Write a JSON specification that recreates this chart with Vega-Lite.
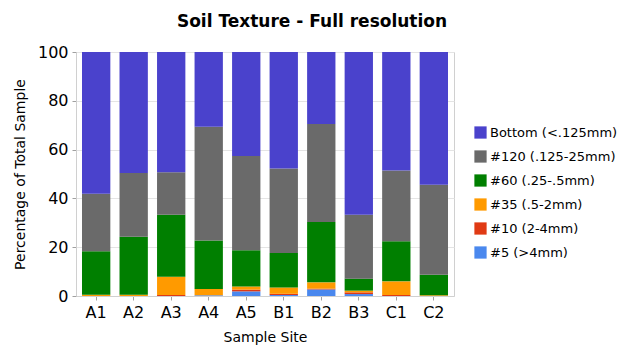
{
  "$schema": "https://vega.github.io/schema/vega-lite/v6.json",
  "width": 378,
  "height": 244,
  "autosize": {"type": "none"},
  "padding": {"left": 76, "top": 52, "right": 171, "bottom": 54},
  "config": {
    "font": "DejaVu Sans",
    "view": {"stroke": "#d0d0d0", "strokeWidth": 1}
  },
  "title": {
    "text": "Soil Texture - Full resolution",
    "fontSize": 17,
    "fontWeight": "bold",
    "font": "DejaVu Sans",
    "color": "#000000",
    "anchor": "middle",
    "dx": 47,
    "offset": 13
  },
  "data": {
    "values": [
      {"site": "A1", "size": "#5 (>4mm)", "k": 1, "pct": 0},
      {"site": "A1", "size": "#10 (2-4mm)", "k": 2, "pct": 0},
      {"site": "A1", "size": "#35 (.5-2mm)", "k": 3, "pct": 0.5},
      {"site": "A1", "size": "#60 (.25-.5mm)", "k": 4, "pct": 17.8},
      {"site": "A1", "size": "#120 (.125-25mm)", "k": 5, "pct": 23.6},
      {"site": "A1", "size": "Bottom (<.125mm)", "k": 6, "pct": 58.1},
      {"site": "A2", "size": "#5 (>4mm)", "k": 1, "pct": 0},
      {"site": "A2", "size": "#10 (2-4mm)", "k": 2, "pct": 0},
      {"site": "A2", "size": "#35 (.5-2mm)", "k": 3, "pct": 0.5},
      {"site": "A2", "size": "#60 (.25-.5mm)", "k": 4, "pct": 23.8},
      {"site": "A2", "size": "#120 (.125-25mm)", "k": 5, "pct": 26.1},
      {"site": "A2", "size": "Bottom (<.125mm)", "k": 6, "pct": 49.6},
      {"site": "A3", "size": "#5 (>4mm)", "k": 1, "pct": 0},
      {"site": "A3", "size": "#10 (2-4mm)", "k": 2, "pct": 0.4},
      {"site": "A3", "size": "#35 (.5-2mm)", "k": 3, "pct": 7.5},
      {"site": "A3", "size": "#60 (.25-.5mm)", "k": 4, "pct": 25.4},
      {"site": "A3", "size": "#120 (.125-25mm)", "k": 5, "pct": 17.4},
      {"site": "A3", "size": "Bottom (<.125mm)", "k": 6, "pct": 49.3},
      {"site": "A4", "size": "#5 (>4mm)", "k": 1, "pct": 0.3},
      {"site": "A4", "size": "#10 (2-4mm)", "k": 2, "pct": 0},
      {"site": "A4", "size": "#35 (.5-2mm)", "k": 3, "pct": 2.6},
      {"site": "A4", "size": "#60 (.25-.5mm)", "k": 4, "pct": 19.8},
      {"site": "A4", "size": "#120 (.125-25mm)", "k": 5, "pct": 46.7},
      {"site": "A4", "size": "Bottom (<.125mm)", "k": 6, "pct": 30.6},
      {"site": "A5", "size": "#5 (>4mm)", "k": 1, "pct": 1.9},
      {"site": "A5", "size": "#10 (2-4mm)", "k": 2, "pct": 0.7},
      {"site": "A5", "size": "#35 (.5-2mm)", "k": 3, "pct": 1.3},
      {"site": "A5", "size": "#60 (.25-.5mm)", "k": 4, "pct": 14.8},
      {"site": "A5", "size": "#120 (.125-25mm)", "k": 5, "pct": 38.7},
      {"site": "A5", "size": "Bottom (<.125mm)", "k": 6, "pct": 42.6},
      {"site": "B1", "size": "#5 (>4mm)", "k": 1, "pct": 0.4},
      {"site": "B1", "size": "#10 (2-4mm)", "k": 2, "pct": 0.5},
      {"site": "B1", "size": "#35 (.5-2mm)", "k": 3, "pct": 2.6},
      {"site": "B1", "size": "#60 (.25-.5mm)", "k": 4, "pct": 14.1},
      {"site": "B1", "size": "#120 (.125-25mm)", "k": 5, "pct": 34.7},
      {"site": "B1", "size": "Bottom (<.125mm)", "k": 6, "pct": 47.7},
      {"site": "B2", "size": "#5 (>4mm)", "k": 1, "pct": 2.7},
      {"site": "B2", "size": "#10 (2-4mm)", "k": 2, "pct": 0.3},
      {"site": "B2", "size": "#35 (.5-2mm)", "k": 3, "pct": 2.6},
      {"site": "B2", "size": "#60 (.25-.5mm)", "k": 4, "pct": 24.7},
      {"site": "B2", "size": "#120 (.125-25mm)", "k": 5, "pct": 40.2},
      {"site": "B2", "size": "Bottom (<.125mm)", "k": 6, "pct": 29.5},
      {"site": "B3", "size": "#5 (>4mm)", "k": 1, "pct": 0.8},
      {"site": "B3", "size": "#10 (2-4mm)", "k": 2, "pct": 0.7},
      {"site": "B3", "size": "#35 (.5-2mm)", "k": 3, "pct": 0.7},
      {"site": "B3", "size": "#60 (.25-.5mm)", "k": 4, "pct": 4.9},
      {"site": "B3", "size": "#120 (.125-25mm)", "k": 5, "pct": 26.2},
      {"site": "B3", "size": "Bottom (<.125mm)", "k": 6, "pct": 66.7},
      {"site": "C1", "size": "#5 (>4mm)", "k": 1, "pct": 0},
      {"site": "C1", "size": "#10 (2-4mm)", "k": 2, "pct": 0.4},
      {"site": "C1", "size": "#35 (.5-2mm)", "k": 3, "pct": 5.6},
      {"site": "C1", "size": "#60 (.25-.5mm)", "k": 4, "pct": 16.4},
      {"site": "C1", "size": "#120 (.125-25mm)", "k": 5, "pct": 29.0},
      {"site": "C1", "size": "Bottom (<.125mm)", "k": 6, "pct": 48.6},
      {"site": "C2", "size": "#5 (>4mm)", "k": 1, "pct": 0},
      {"site": "C2", "size": "#10 (2-4mm)", "k": 2, "pct": 0},
      {"site": "C2", "size": "#35 (.5-2mm)", "k": 3, "pct": 0.3},
      {"site": "C2", "size": "#60 (.25-.5mm)", "k": 4, "pct": 8.4},
      {"site": "C2", "size": "#120 (.125-25mm)", "k": 5, "pct": 36.9},
      {"site": "C2", "size": "Bottom (<.125mm)", "k": 6, "pct": 54.4}
    ]
  },
  "mark": {"type": "bar"},
  "encoding": {
    "x": {
      "field": "site",
      "type": "nominal",
      "sort": null,
      "scale": {"paddingInner": 0.245, "paddingOuter": 0.16},
      "axis": {
        "title": "Sample Site",
        "titleFontSize": 14,
        "titleFontWeight": "normal",
        "titleColor": "#000000",
        "titlePadding": 10,
        "labelAngle": 0,
        "labelFontSize": 16,
        "labelColor": "#000000",
        "labelPadding": 4,
        "domainColor": "#d0d0d0",
        "tickColor": "#a0a0a0",
        "tickSize": 4
      }
    },
    "y": {
      "field": "pct",
      "type": "quantitative",
      "stack": "zero",
      "scale": {"domain": [0, 100], "nice": false},
      "axis": {
        "title": "Percentage of Total Sample",
        "titleFontSize": 14,
        "titleFontWeight": "normal",
        "titleColor": "#000000",
        "titlePadding": 10,
        "values": [0, 20, 40, 60, 80, 100],
        "labelFontSize": 16,
        "labelColor": "#000000",
        "labelPadding": 4,
        "gridColor": "#e4e4e4",
        "domainColor": "#d0d0d0",
        "tickColor": "#a0a0a0",
        "tickSize": 4
      }
    },
    "color": {
      "field": "size",
      "type": "nominal",
      "scale": {
        "domain": ["Bottom (<.125mm)", "#120 (.125-25mm)", "#60 (.25-.5mm)", "#35 (.5-2mm)", "#10 (2-4mm)", "#5 (>4mm)"],
        "range": ["#4a42cc", "#6a6a6a", "#007f00", "#ff9a00", "#e03a14", "#4a88ee"]
      },
      "legend": {
        "title": null,
        "orient": "none",
        "legendX": 398,
        "legendY": 74,
        "symbolType": "square",
        "symbolSize": 150,
        "symbolStrokeWidth": 0,
        "labelFontSize": 13,
        "labelColor": "#000000",
        "rowPadding": 10,
        "labelOffset": 3
      }
    },
    "order": {"field": "k", "type": "quantitative"}
  }
}
